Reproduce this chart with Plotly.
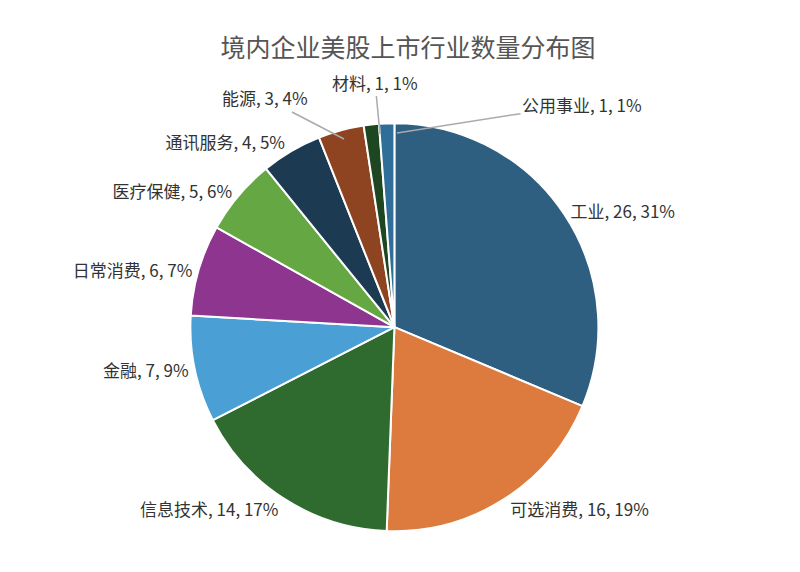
import plotly.graph_objects as go

industries = ["工业", "可选消费", "信息技术", "金融", "日常消费", "医疗保健", "通讯服务", "能源", "材料", "公用事业"]
counts = [26, 16, 14, 7, 6, 5, 4, 3, 1, 1]
pct_labels = ["31%", "19%", "17%", "9%", "7%", "6%", "5%", "4%", "1%", "1%"]
colors = ["#2E5F80", "#DD7A3E", "#2F6B2F", "#4A9FD4", "#8E3590",
          "#65A843", "#1C3A52", "#8E4420", "#1E4620", "#2E6E99"]

# the three thinnest slices get leader-line annotations instead of pie text
small = {"能源": (336, 131, -79, -41), "材料": (372, 126, -5, -52), "公用事业": (389, 125, 185, -29)}

texts = []
for name, n, p in zip(industries, counts, pct_labels):
    texts.append("" if name in small else f"{name}, {n}, {p}")

fig = go.Figure(go.Pie(
    labels=industries,
    values=counts,
    text=texts,
    sort=False,
    direction="clockwise",
    rotation=0,
    marker=dict(colors=colors, line=dict(color="white", width=2)),
    textposition="outside",
    textinfo="text",
    textfont=dict(size=17, color="#333333"),
    domain=dict(x=[0.228, 0.738], y=[0.085, 0.799]),
    showlegend=False,
))

for name, n, p in zip(industries, counts, pct_labels):
    if name in small:
        x, y, ax, ay = small[name]
        fig.add_annotation(
            x=x / 800, y=1 - y / 572, xref="paper", yref="paper",
            ax=ax, ay=ay, text=f"{name}, {n}, {p}",
            showarrow=True, arrowhead=0, arrowwidth=1.5, arrowcolor="#AAAAAA",
            font=dict(size=17, color="#333333"),
        )

fig.update_layout(
    title=dict(text="境内企业美股上市行业数量分布图", x=0.5, y=1 - 40 / 572,
               xanchor="center", yanchor="middle",
               font=dict(size=25, color="#555555")),
    font=dict(family="Noto Sans CJK SC, Liberation Sans, sans-serif"),
    margin=dict(l=0, r=0, t=0, b=0),
    width=800, height=572,
    paper_bgcolor="white",
)
fig.write_html("out.html")
